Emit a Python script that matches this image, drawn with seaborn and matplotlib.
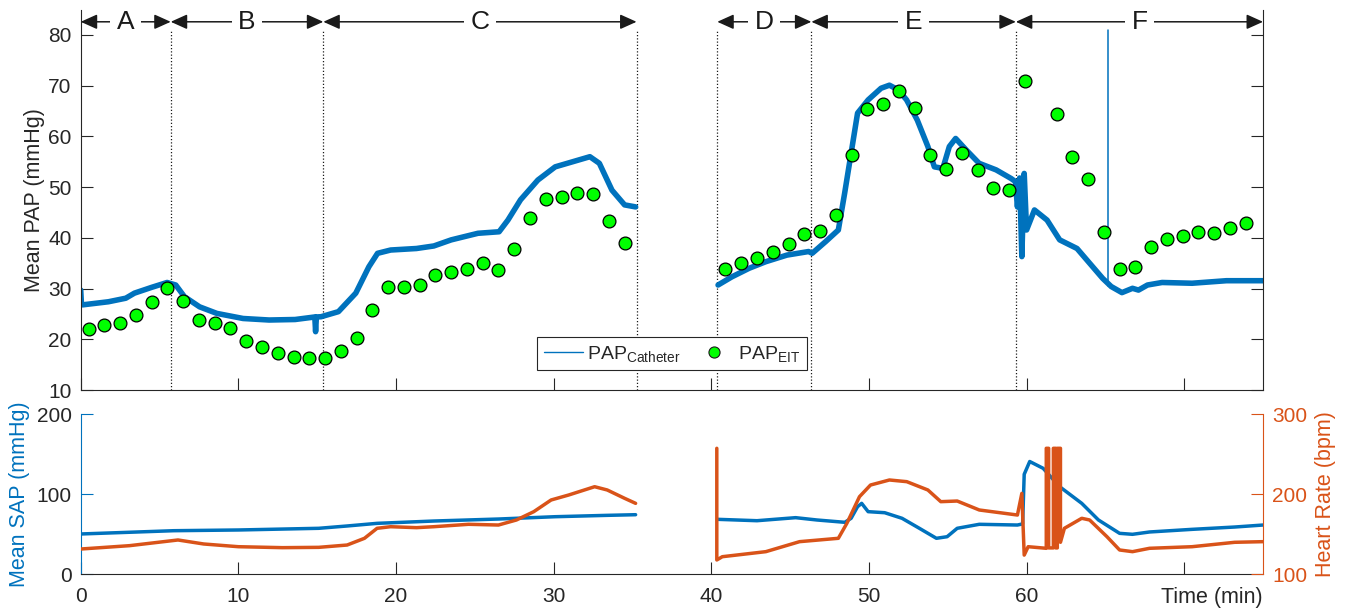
import matplotlib
matplotlib.use('Agg')
import matplotlib.pyplot as plt
import pandas as pd
import seaborn as sns
from matplotlib.lines import Line2D
from matplotlib.transforms import blended_transform_factory

# ---------------- data ----------------
# Catheter PAP, first recording block
cath_t1 = [0, 0.05, 0.15, 1.76, 2.86, 3.41, 4.51, 5.48, 6.03, 6.58, 7.54, 8.64, 10.3, 11.95,
           13.6, 14.85, 14.9, 14.95, 15.25, 16.35, 17.45, 18.28, 18.83, 19.66, 21.3, 22.4,
           23.5, 25.2, 26.54, 27.1, 27.9, 29.0, 30.1, 31.2, 32.3, 32.9, 33.7, 34.5, 35.2]
cath_v1 = [29.7, 26.8, 26.8, 27.4, 28.1, 29.1, 30.25, 31.2, 30.7, 28.4, 26.4, 25.1, 24.1, 23.8,
           23.9, 24.4, 21.5, 24.4, 24.45, 25.45, 29.1, 34.3, 36.95, 37.6, 37.9, 38.4,
           39.6, 40.9, 41.2, 43.5, 47.5, 51.4, 54.0, 55.0, 56.0, 54.7, 49.4, 46.5, 46.1]
# Catheter PAP, second recording block
cath_t2 = [40.43, 41.3, 42.4, 43.46, 44.8, 46.17, 46.4, 47.25, 48.06, 48.46, 48.87, 49.28,
           49.95, 50.77, 51.3, 51.85, 52.39, 53.07, 53.74, 54.15, 54.69, 55.1, 55.5, 56.18,
           56.99, 58.07, 59.02, 59.29, 59.42, 59.56, 59.7, 59.85, 60.0, 60.5, 61.3, 62.1,
           63.2, 64.0, 64.83, 65.37, 66.05, 66.72, 67.1, 67.67, 68.6, 70.5, 72.68, 75.0]
cath_v2 = [30.7, 32.3, 34.0, 35.3, 36.6, 37.3, 36.95, 39.25, 41.55, 48.8, 56.7, 64.6,
           67.2, 69.5, 70.1, 69.2, 67.2, 63.2, 58.0, 54.0, 53.7, 58.0, 59.6, 57.3,
           54.7, 53.4, 51.7, 51.1, 46.1, 51.8, 36.3, 52.7, 41.55, 45.5, 43.5, 39.6,
           37.9, 35.0, 32.0, 30.4, 29.2, 30.05, 29.7, 30.7, 31.2, 31.05, 31.55, 31.55]
# thin catheter artefact spike
spike_t = [65.15, 65.15]
spike_v = [30.5, 81.0]

# EIT-derived PAP
eit_t = [0.5, 1.5, 2.5, 3.5, 4.5, 5.5, 6.5, 7.5, 8.5, 9.5, 10.5, 11.5, 12.5, 13.5, 14.5,
         15.5, 16.5, 17.5, 18.5, 19.5, 20.5, 21.5, 22.5, 23.5, 24.5, 25.5, 26.5, 27.5,
         28.5, 29.5, 30.5, 31.5, 32.5, 33.5, 34.5,
         40.9, 41.9, 42.9, 43.9, 44.9, 45.9, 46.9, 47.9, 48.9, 49.9, 50.9, 51.9, 52.9,
         53.9, 54.9, 55.9, 56.9, 57.9, 58.9, 59.9,
         61.9, 62.9, 63.9, 64.9, 65.9, 66.9, 67.9, 68.9, 69.9, 70.9, 71.9, 72.9, 73.9]
eit_v = [22.0, 22.75, 23.3, 24.7, 27.4, 30.05, 27.6, 23.9, 23.3, 22.2, 19.7, 18.5, 17.3,
         16.45, 16.25, 16.25, 17.7, 20.2, 25.8, 30.25, 30.25, 30.8, 32.7, 33.2, 33.8, 35.1,
         33.7, 37.9, 44.0, 47.7, 48.1, 48.8, 48.65, 43.3, 38.9,
         33.9, 35.0, 36.1, 37.15, 38.85, 40.7, 41.4, 44.5, 56.4, 65.35, 66.4, 69.0, 65.7,
         56.3, 53.5, 56.7, 53.4, 49.8, 49.5, 70.9,
         64.5, 56.0, 51.6, 41.1, 33.8, 34.3, 38.2, 39.8, 40.4, 41.2, 41.0, 41.95, 42.9]

# Mean systemic arterial pressure
sap_t1 = [0, 5.9, 10.0, 15.1, 16.9, 18.8, 22.4, 26.5, 30.1, 33.4, 35.2]
sap_v1 = [50.4, 54.5, 55.4, 57.5, 60.4, 63.7, 66.6, 69.1, 72.0, 73.7, 74.5]
sap_t2 = [40.43, 42.9, 45.35, 46.7, 48.47, 48.87, 49.28, 49.54, 49.95, 51.0, 52.1, 53.2,
          54.28, 54.96, 55.6, 57.0, 59.42, 59.75, 59.85, 60.2, 61.05, 62.1, 63.5, 64.56,
          65.9, 66.72, 67.8, 70.5, 73.2, 75.0]
sap_v2 = [68.7, 67.0, 70.8, 67.9, 65.0, 70.0, 84.5, 88.7, 78.3, 77.0, 70.0, 57.5,
          45.0, 47.0, 57.5, 62.5, 61.6, 63.0, 125.0, 141.0, 132.5, 109.5, 88.7, 67.9,
          51.2, 50.0, 52.9, 56.2, 59.1, 61.6]

# Heart rate
hr_t1 = [0, 3.1, 6.17, 7.8, 10, 12.8, 15.1, 16.9, 18.0, 18.8, 19.66, 21.3, 22.4, 24.6,
         26.5, 27.64, 28.74, 29.84, 30.95, 32.6, 33.4, 34.5, 35.2]
hr_v1 = [131.6, 135.8, 142.9, 137.9, 134.5, 133.3, 133.7, 136.6, 145, 157.5, 159.5, 158.3,
         159.5, 162.5, 161.6, 167.9, 178.3, 192.9, 199.1, 209.5, 205.4, 195, 188.7]
hr_t2 = [40.35, 40.35, 40.7, 43.46, 45.6, 48.06, 48.6, 49.4, 50.1, 51.3, 52.4, 53.74,
         54.56, 55.6, 57.0, 59.42, 59.7, 59.85, 60.1, 61.25,
         61.25, 61.4, 61.4, 61.7, 61.7, 61.85, 61.85, 61.95, 61.95, 62.15, 62.15,
         62.4, 63.5, 64.0, 65.1, 65.9, 66.72, 67.8, 70.5, 73.2, 75.0]
hr_v2 = [257.5, 117.9, 122, 128.3, 140.8, 145, 163.7, 197, 211.6, 217.9, 215.8, 205.4,
         190.8, 191.6, 180.4, 174.1, 201.2, 124, 134.5, 132.5,
         257.5, 257.5, 133, 133, 257.5, 257.5, 133, 133, 257.5, 257.5, 140,
         157.5, 170, 167.9, 147, 130.4, 128.3, 132.5, 134.5, 140, 140.8]

# Protocol phases
phase_names = ['A', 'B', 'C', 'D', 'E', 'F']
phase_start = [0, 5.71, 15.39, 40.38, 46.35, 59.32]
phase_end = [5.71, 15.39, 35.26, 46.35, 59.32, 75]
phase_lines = [5.71, 15.39, 35.26, 40.38, 46.35, 59.32]

x_ticks = [0, 10, 20, 30, 40, 50, 60, 70]
x_ticklabels = ['0', '10', '20', '30', '40', '50', '60', '']
pap_ticks = [10, 20, 30, 40, 50, 60, 70, 80]
sap_ticks = [0, 100, 200]
hr_ticks = [100, 200, 300]

# ---------------- styling ----------------
sns.set_theme(style='white')
plt.rcParams['font.family'] = ['Liberation Sans', 'DejaVu Sans']
plt.rcParams['mathtext.fontset'] = 'custom'
plt.rcParams['mathtext.rm'] = 'Liberation Sans'
plt.rcParams['mathtext.it'] = 'Liberation Sans:italic'
plt.rcParams['mathtext.bf'] = 'Liberation Sans:bold'

BLUE = '#0072BD'
ORANGE = '#D95319'
GREEN = '#00FF00'
AX = '#262626'
TICK_FS = 15
LAB_FS = 15.5

fig = plt.figure(figsize=(13.48, 6.09), dpi=100)
ax1 = fig.add_axes([0.05987, 0.3596, 0.8771, 0.6246])
ax2 = fig.add_axes([0.05987, 0.05698, 0.8771, 0.2627])
ax3 = ax2.twinx()

# ---------------- top panel ----------------
cath = pd.DataFrame({'t': cath_t1 + cath_t2, 'v': cath_v1 + cath_v2,
                     'seg': [1] * len(cath_t1) + [2] * len(cath_t2)})
ax1.vlines(phase_lines, 10, 81, colors='k', linestyles=(0, (1, 1.6)), lw=0.9, zorder=1)
sns.lineplot(data=cath, x='t', y='v', units='seg', estimator=None, sort=False,
             color=BLUE, lw=4, ax=ax1, legend=False, zorder=2)
sns.lineplot(x=spike_t, y=spike_v, estimator=None, sort=False, color=BLUE, lw=1.1,
             ax=ax1, legend=False, zorder=2)
sns.scatterplot(x=eit_t, y=eit_v, color=GREEN, edgecolor='black', linewidth=0.9, s=85,
                ax=ax1, legend=False, zorder=3)

ax1.set_xlim(0, 75)
ax1.set_ylim(10, 85)
ax1.set_xticks(x_ticks)
ax1.set_xticklabels([])
ax1.set_yticks(pap_ticks)
ax1.tick_params(axis='both', direction='in', length=8.6, width=0.8, color=AX,
                labelsize=TICK_FS, labelcolor=AX, pad=6.5)
ax1.tick_params(axis='y', left=True, right=True)
ax1.tick_params(axis='x', bottom=True, top=False)
for s in ['left', 'right', 'bottom']:
    ax1.spines[s].set_color(AX)
    ax1.spines[s].set_linewidth(0.8)
ax1.spines['top'].set_visible(False)
ax1.set_xlabel('')
ax1.set_ylabel('Mean PAP (mmHg)', fontsize=LAB_FS, color=AX)
ax1.yaxis.set_label_coords(-0.0302, 0.5)

# phase arrows
trans = blended_transform_factory(ax1.transData, ax1.transAxes)
y_arrow = 0.968
for name, a, b in zip(phase_names, phase_start, phase_end):
    ax1.annotate('', xy=(b, y_arrow), xytext=(a, y_arrow), xycoords=trans, textcoords=trans,
                 arrowprops=dict(arrowstyle='<|-|>,head_length=1.0,head_width=0.45',
                                 color='k', lw=1.1, shrinkA=0, shrinkB=0,
                                 mutation_scale=10),
                 annotation_clip=False, zorder=5)
    ax1.text((a + b) / 2, y_arrow, name, transform=trans, ha='center', va='center',
             fontsize=19, color='k', zorder=6,
             bbox=dict(boxstyle='square,pad=0.25', fc='white', ec='none'))

handles = [Line2D([], [], color=BLUE, lw=1),
           Line2D([], [], marker='o', ls='none', markerfacecolor=GREEN,
                  markeredgecolor='k', markeredgewidth=0.8, markersize=8)]
leg = ax1.legend(handles, [r'PAP$_{\mathrm{Catheter}}$', r'PAP$_{\mathrm{EIT}}$'], ncol=2,
                 loc='lower center', bbox_to_anchor=(0.5, 0.026), frameon=True,
                 fancybox=False, edgecolor=AX, fontsize=14, handlelength=2.0,
                 columnspacing=0.7, borderpad=0.35, handletextpad=0.25, framealpha=1)
leg.get_frame().set_linewidth(0.8)

# ---------------- bottom panel ----------------
sap = pd.DataFrame({'t': sap_t1 + sap_t2, 'v': sap_v1 + sap_v2,
                    'seg': [1] * len(sap_t1) + [2] * len(sap_t2)})
hr = pd.DataFrame({'t': hr_t1 + hr_t2, 'v': hr_v1 + hr_v2,
                   'seg': [1] * len(hr_t1) + [2] * len(hr_t2)})
sns.lineplot(data=sap, x='t', y='v', units='seg', estimator=None, sort=False,
             color=BLUE, lw=2.5, ax=ax2, legend=False)
sns.lineplot(data=hr, x='t', y='v', units='seg', estimator=None, sort=False,
             color=ORANGE, lw=2.5, ax=ax3, legend=False)

ax2.set_xlim(0, 75)
ax2.set_ylim(0, 200)
ax3.set_ylim(100, 300)
ax2.set_xticks(x_ticks)
ax2.set_xticklabels(x_ticklabels)
ax2.set_yticks(sap_ticks)
ax3.set_yticks(hr_ticks)
ax2.tick_params(axis='x', direction='in', length=8.6, width=0.8, color=AX,
                labelsize=TICK_FS, labelcolor=AX, pad=9, bottom=True)
ax2.tick_params(axis='y', direction='in', length=8.6, width=0.8, color=BLUE,
                labelsize=TICK_FS, labelcolor=AX, pad=6.5, left=True, right=False)
ax3.tick_params(axis='y', direction='in', length=8.6, width=0.8, color=ORANGE,
                labelsize=TICK_FS, labelcolor=ORANGE, pad=6.5, right=True)
for s in ['top', 'right']:
    ax2.spines[s].set_visible(False)
for s in ['top', 'left', 'bottom']:
    ax3.spines[s].set_visible(False)
ax2.spines['left'].set_color(BLUE)
ax2.spines['left'].set_linewidth(0.8)
ax2.spines['bottom'].set_color(AX)
ax2.spines['bottom'].set_linewidth(0.8)
ax3.spines['right'].set_color(ORANGE)
ax3.spines['right'].set_linewidth(0.8)

ax2.set_ylabel('Mean SAP (mmHg)', fontsize=LAB_FS, color=BLUE)
ax2.yaxis.set_label_coords(-0.0425, 0.5)
ax3.set_ylabel('Heart Rate (bpm)', fontsize=LAB_FS, color=ORANGE)
ax3.yaxis.set_label_coords(1.0436, 0.5)
ax3.set_xlabel('')
ax2.set_xlabel('Time (min)', fontsize=LAB_FS, color=AX)
ax2.xaxis.set_label_coords(1.0, -0.146)
ax2.xaxis.label.set_ha('right')
ax2.xaxis.label.set_va('center')

fig.savefig('out.png', dpi=100)
